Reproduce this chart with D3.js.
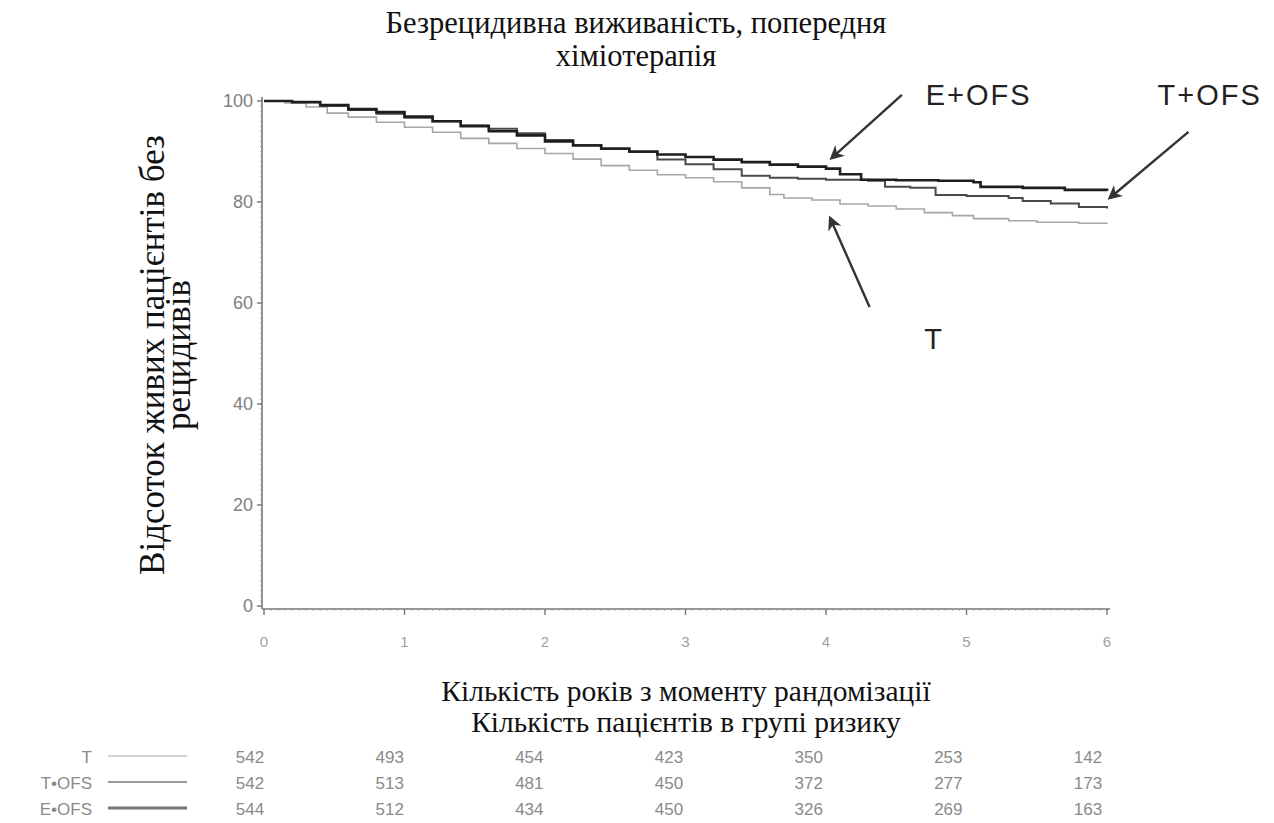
<!DOCTYPE html>
<html>
<head>
<meta charset="utf-8">
<script src="https://cdn.jsdelivr.net/npm/d3@7/dist/d3.min.js"></script>
<style>
  body { margin: 0; background: #fff; }
  .serif { font-family: "Liberation Serif", "Times New Roman", serif; fill: #111; }
  .tick-label { font-family: "Liberation Sans", Arial, sans-serif; font-size: 18px; fill: #808080; }
  .note { font-family: "Liberation Sans", Arial, sans-serif; font-size: 29px; fill: #222; letter-spacing: 2px; }
  .risk { font-family: "Liberation Sans", Arial, sans-serif; font-size: 17px; fill: #8a8a8a; }
</style>
</head>
<body>
<svg id="chart" width="1274" height="823"></svg>
<script>
'use strict';

// Kaplan-Meier steps (years, % alive without relapse)
var tTimes    = [0, 0.15, 0.3, 0.45, 0.6, 0.8, 1.0, 1.2, 1.4, 1.6, 1.8, 2.0, 2.2, 2.4, 2.6, 2.8, 3.0, 3.2, 3.4, 3.6, 3.7, 3.9, 4.1, 4.3, 4.5, 4.7, 4.9, 5.05, 5.3, 5.5, 5.8, 6.0];
var tSurv     = [100, 99.6, 98.8, 97.6, 96.8, 95.8, 94.8, 93.8, 92.6, 91.6, 90.6, 89.6, 88.5, 87.2, 86.3, 85.4, 84.8, 84.0, 82.8, 81.5, 80.8, 80.4, 79.6, 79.2, 78.6, 77.9, 77.3, 76.7, 76.3, 76.0, 75.8, 75.7];
var tofsTimes = [0, 0.2, 0.4, 0.6, 0.8, 1.0, 1.2, 1.4, 1.6, 1.8, 2.0, 2.2, 2.4, 2.6, 2.8, 3.0, 3.2, 3.4, 3.6, 3.8, 4.0, 4.3, 4.42, 4.6, 4.78, 5.0, 5.3, 5.4, 5.6, 5.8, 6.0];
var tofsSurv  = [100, 99.7, 99.0, 98.2, 97.5, 96.7, 96.0, 95.2, 94.5, 93.6, 92.3, 91.3, 90.5, 89.9, 88.4, 87.5, 86.5, 85.2, 84.8, 84.6, 84.4, 84.2, 83.0, 82.8, 81.4, 81.2, 80.8, 80.2, 79.7, 79.0, 78.7];
var eofsTimes = [0, 0.2, 0.4, 0.6, 0.8, 1.0, 1.2, 1.4, 1.6, 1.8, 2.0, 2.2, 2.4, 2.6, 2.8, 3.0, 3.2, 3.4, 3.6, 3.8, 4.0, 4.1, 4.25, 4.5, 4.8, 5.05, 5.1, 5.4, 5.7, 6.0];
var eofsSurv  = [100, 99.8, 99.2, 98.4, 97.8, 96.9, 96.0, 95.0, 94.0, 93.2, 92.0, 91.2, 90.6, 90.0, 89.4, 88.9, 88.4, 87.9, 87.4, 87.0, 86.6, 85.5, 84.4, 84.3, 84.2, 83.9, 83.0, 82.8, 82.4, 82.2];

var seriesNames = ['T', 'T+OFS', 'E+OFS'];
var tableLabels = ['T', 'T•OFS', 'E•OFS'];
var riskT    = [542, 493, 454, 423, 350, 253, 142];
var riskTofs = [542, 513, 481, 450, 372, 277, 173];
var riskEofs = [544, 512, 434, 450, 326, 269, 163];

var xTicks = [0, 1, 2, 3, 4, 5, 6];
var yTicks = [0, 20, 40, 60, 80, 100];

var titleLines = ['Безрецидивна виживаність, попередня', 'хіміотерапія'];
var yLabelLines = ['Відсоток живих пацієнтів без', 'рецидивів'];
var xLabelLines = ['Кількість років з моменту рандомізації', 'Кількість пацієнтів в групі ризику'];

var svg = d3.select('#chart'),
    x = d3.scaleLinear().domain([0, 6]).range([264, 1107]),
    y = d3.scaleLinear().domain([0, 100]).range([606, 101]),
    col = d3.scalePoint().domain(xTicks).range([250, 1088]),
    row = d3.scalePoint().domain(seriesNames).range([757, 809]);

var styles = {
  'T':     { color: '#a6a6a6', width: 1.6, table: '#c4c4c4', tw: 1.5 },
  'T+OFS': { color: '#4a4a4a', width: 2.0, table: '#9a9a9a', tw: 2 },
  'E+OFS': { color: '#1e1e1e', width: 2.6, table: '#777', tw: 3 }
};

function zipSeries(times, surv) {
  return times.map(function (t, i) { return [t, surv[i]]; });
}

var series = [
  { name: 'T', values: zipSeries(tTimes, tSurv) },
  { name: 'T+OFS', values: zipSeries(tofsTimes, tofsSurv) },
  { name: 'E+OFS', values: zipSeries(eofsTimes, eofsSurv) }
];

function drawTitles() {
  svg.append('g').selectAll('text').data(titleLines).enter().append('text')
    .attr('class', 'serif').attr('x', 636).attr('y', function (d, i) { return 33 + i * 33; })
    .attr('text-anchor', 'middle').style('font-size', '30.5px').text(function (d) { return d; });

  svg.append('g').selectAll('text').data(yLabelLines).enter().append('text')
    .attr('class', 'serif').attr('text-anchor', 'middle').style('font-size', '35px')
    .attr('transform', function (d, i) { return 'translate(' + (164 + i * 26) + ',355) rotate(-90)'; })
    .text(function (d) { return d; });

  svg.append('g').selectAll('text').data(xLabelLines).enter().append('text')
    .attr('class', 'serif').attr('x', 686).attr('y', function (d, i) { return 701 + i * 31; })
    .attr('text-anchor', 'middle').style('font-size', '29.5px').text(function (d) { return d; });
}

function drawAxes() {
  var g = svg.append('g').attr('class', 'axes'),
      minorY = d3.range(0, 101, 1),
      minorX = d3.range(0, 6.001, 0.05);

  // y axis with the fine hatch ticks
  g.append('line').attr('x1', x(0) - 2).attr('x2', x(0) - 2).attr('y1', y(100) - 4).attr('y2', y(0) + 3)
    .attr('stroke', '#777').attr('stroke-width', 1.6);
  g.selectAll('.ym').data(minorY).enter().append('line').attr('class', 'ym')
    .attr('x1', x(0) - 4).attr('x2', x(0) - 2).attr('y1', function (d) { return y(d); }).attr('y2', function (d) { return y(d); })
    .attr('stroke', '#999').attr('stroke-width', 0.8);
  g.selectAll('.yt').data(yTicks).enter().append('line').attr('class', 'yt')
    .attr('x1', x(0) - 7).attr('x2', x(0) - 2).attr('y1', function (d) { return y(d); }).attr('y2', function (d) { return y(d); })
    .attr('stroke', '#777').attr('stroke-width', 1.4);
  g.selectAll('.yl').data(yTicks).enter().append('text').attr('class', 'tick-label')
    .attr('x', x(0) - 11).attr('y', function (d) { return y(d) + 6; }).attr('text-anchor', 'end')
    .text(function (d) { return d; });

  // x axis
  var ax = y(0) + 3;
  g.append('line').attr('x1', x(0) - 2).attr('x2', x(6) + 3).attr('y1', ax).attr('y2', ax)
    .attr('stroke', '#777').attr('stroke-width', 1.6);
  g.selectAll('.xm').data(minorX).enter().append('line').attr('class', 'xm')
    .attr('x1', function (d) { return x(d); }).attr('x2', function (d) { return x(d); }).attr('y1', ax).attr('y2', ax + 2)
    .attr('stroke', '#999').attr('stroke-width', 0.8);
  g.selectAll('.xt').data(xTicks).enter().append('line').attr('class', 'xt')
    .attr('x1', function (d) { return x(d); }).attr('x2', function (d) { return x(d); }).attr('y1', ax).attr('y2', ax + 6)
    .attr('stroke', '#777').attr('stroke-width', 1.4);
  g.selectAll('.xl').data(xTicks).enter().append('text').attr('class', 'tick-label')
    .attr('x', function (d) { return x(d); }).attr('y', ax + 38).attr('text-anchor', 'middle')
    .style('font-size', '15px').style('fill', '#a0a0a0')
    .text(function (d) { return d; });
}

function drawCurves() {
  var line = d3.line().curve(d3.curveStepAfter)
    .x(function (d) { return x(d[0]); }).y(function (d) { return y(d[1]); });

  svg.append('g').selectAll('path').data(series).enter().append('path')
    .attr('d', function (d) { return line(d.values); })
    .attr('fill', 'none')
    .attr('stroke', function (d) { return styles[d.name].color; })
    .attr('stroke-width', function (d) { return styles[d.name].width; });
}

function drawNotes() {
  // each arrow runs from a tail point to a tip point, both in (years, %)
  var arrows = [
    { label: 'E+OFS', from: [4.54, 101.2], to: [4.04, 88.7], at: [4.71, 99.2] },
    { label: 'T+OFS', from: [6.58, 93.9], to: [6.02, 80.8], at: [6.36, 99.2] },
    { label: 'T',     from: [4.31, 59.2], to: [4.03, 76.8], at: [4.70, 50.9] }
  ];

  svg.append('defs').append('marker').attr('id', 'head')
    .attr('viewBox', '0 0 10 10').attr('refX', 8).attr('refY', 5)
    .attr('markerWidth', 6).attr('markerHeight', 6).attr('orient', 'auto')
    .append('path').attr('d', 'M0,0L10,5L0,10L3,5z').attr('fill', '#333');

  var g = svg.append('g');
  g.selectAll('line').data(arrows).enter().append('line')
    .attr('x1', function (d) { return x(d.from[0]); }).attr('y1', function (d) { return y(d.from[1]); })
    .attr('x2', function (d) { return x(d.to[0]); }).attr('y2', function (d) { return y(d.to[1]); })
    .attr('stroke', '#333').attr('stroke-width', 2.4).attr('marker-end', 'url(#head)');
  g.selectAll('text').data(arrows).enter().append('text').attr('class', 'note')
    .attr('x', function (d) { return x(d.at[0]); }).attr('y', function (d) { return y(d.at[1]); })
    .text(function (d) { return d.label; });
}

function drawRiskTable() {
  var rows = [
    { name: 'T', label: tableLabels[0], counts: riskT },
    { name: 'T+OFS', label: tableLabels[1], counts: riskTofs },
    { name: 'E+OFS', label: tableLabels[2], counts: riskEofs }
  ];
  var g = svg.append('g').selectAll('g').data(rows).enter().append('g')
    .attr('transform', function (d) { return 'translate(0,' + row(d.name) + ')'; });

  g.append('text').attr('class', 'risk').attr('x', 92).attr('y', 6).attr('text-anchor', 'end')
    .text(function (d) { return d.label; });
  g.append('line').attr('x1', 108).attr('x2', 187).attr('y1', -1).attr('y2', -1)
    .attr('stroke', function (d) { return styles[d.name].table; })
    .attr('stroke-width', function (d) { return styles[d.name].tw; });
  g.selectAll('text.n').data(function (d) { return d.counts; }).enter().append('text')
    .attr('class', 'risk n').attr('x', function (d, i) { return col(xTicks[i]); }).attr('y', 6)
    .attr('text-anchor', 'middle').text(function (d) { return d; });
}

drawTitles();
drawAxes();
drawCurves();
drawNotes();
drawRiskTable();
</script>
</body>
</html>
